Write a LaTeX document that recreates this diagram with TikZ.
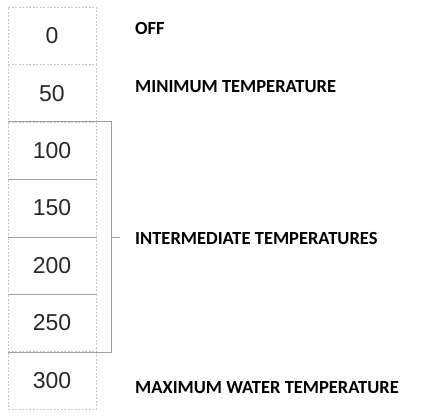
\documentclass[tikz,border=0pt]{standalone}
\usepackage{fontspec}
\setmainfont{Liberation Sans}
\newfontfamily\labelfont{Carlito}
\definecolor{boxgray}{RGB}{200,200,200}
\definecolor{bracegray}{RGB}{160,160,160}
\definecolor{numgray}{RGB}{40,40,40}
\tikzset{
  cell/.style={draw=boxgray, dash pattern=on 2pt off 1.5pt, minimum width=88pt,
    minimum height=57.43pt, inner sep=0pt, text=numgray, font=\fontsize{23}{23}\selectfont},
  setting/.style={anchor=west, inner sep=0pt,
    font=\labelfont\bfseries\fontsize{18.5}{18.5}\selectfont}
}
\begin{document}
\begin{tikzpicture}[x=1pt,y=-1pt]
    \useasboundingbox (0,0) rectangle (427,416);
    \foreach \v [count=\i from 0] in {0,50,...,300}
        \node[cell] (cell\i) at (52,35.7+57.43*\i) {\v};
    \coordinate (rail) at (111,0);
    \draw[bracegray] (cell2.north west) -- (cell2.north -| rail) -- (cell5.south -| rail) -- (cell5.south west);
    \foreach \i in {2,3,4}
        \draw[bracegray] (cell\i.south west) -- (cell\i.south east);
    \draw[bracegray] (cell3.south -| rail) -- ++(9,0) coordinate (tick);
    \node[setting] (off) at (135,28) {OFF};
    \node[setting] (minimum) at (135,87) {MINIMUM TEMPERATURE};
    \node[setting] (intermediate) at (135,238) {INTERMEDIATE TEMPERATURES};
    \node[setting] (maximum) at (135,388) {MAXIMUM WATER TEMPERATURE};
\end{tikzpicture}
\end{document}
